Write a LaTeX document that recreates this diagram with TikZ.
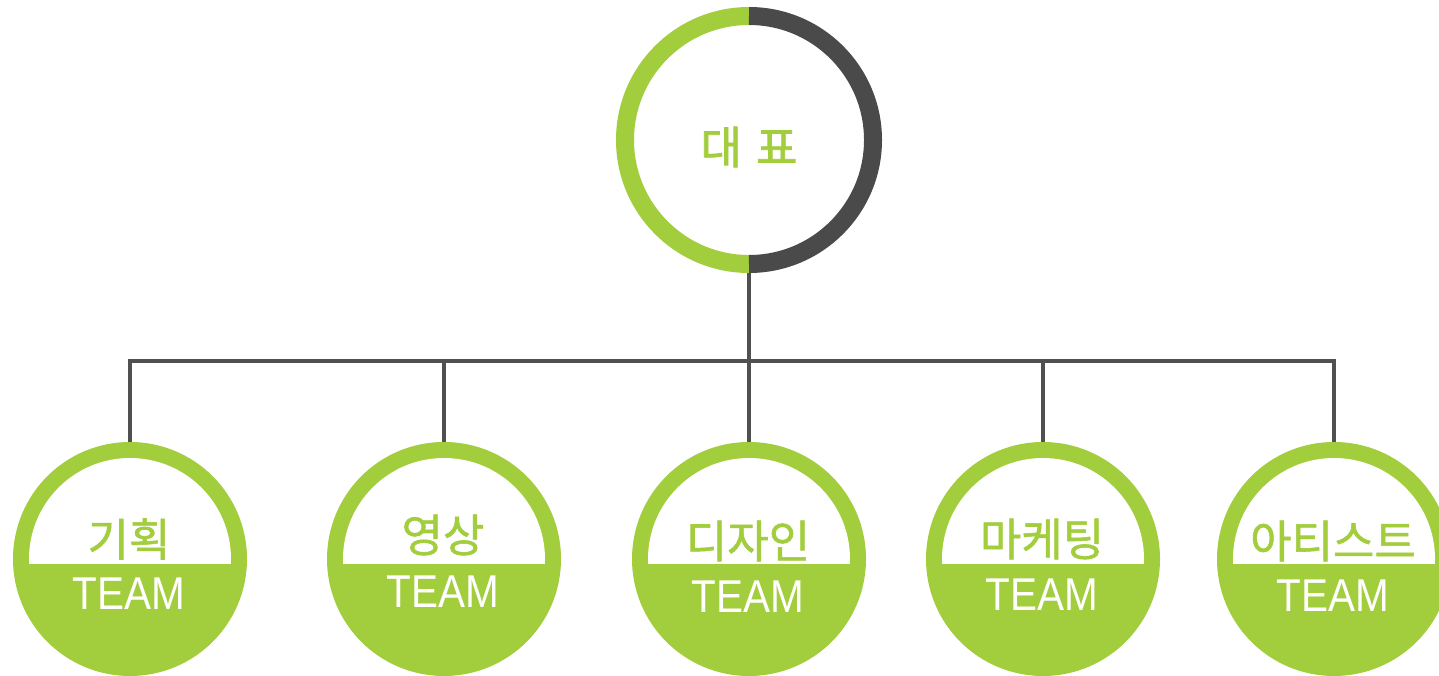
\documentclass[tikz,border=0pt]{standalone}
\usepackage{fontspec}
\newfontfamily\korfont[FakeBold=1.2]{Noto Sans CJK KR}
\newfontfamily\korbold[FakeBold=1.6]{Noto Sans CJK KR}
\newfontfamily\teamfont[FakeStretch=0.88]{Liberation Sans}
\definecolor{leaf}{HTML}{A2CD3C}
\definecolor{ink}{HTML}{4A4A4A}
\definecolor{wire}{HTML}{505050}
\tikzset{
  team/.style={circle, fill=leaf, minimum size=234pt, inner sep=0pt, outer sep=0pt},
  boss/.style={circle, minimum size=266pt, inner sep=0pt, outer sep=0pt},
  kor/.style={text=leaf, font=\korfont\fontsize{45}{45}\selectfont, inner sep=0pt},
  eng/.style={text=white, font=\teamfont\fontsize{46}{46}\selectfont, inner sep=0pt},
  link/.style={draw=wire, line width=3.5pt}
}
\begin{document}
\begin{tikzpicture}[x=1pt,y=-1pt]
\useasboundingbox (0,0) rectangle (1439,676);
\clip (0,0) rectangle (1439,676);
\fill[white] (0,0) rectangle (1439,676);
% top circle
\node[boss] (top) at (749,140) {};
\draw[leaf, line width=18pt] (749,16) arc[start angle=-90, end angle=-270, radius=124];
\draw[ink, line width=18pt] (749,16) arc[start angle=-90, end angle=90, radius=124];
\node[text=leaf, font=\korbold\fontsize{45}{45}\selectfont, inner sep=0pt] (toplabel) at (749,147) {대\hspace{14pt}표};
% team circles
\foreach \n/\x/\k/\ky/\ty in {c1/130/기획/539/594, c2/444/영상/535/592, c3/749/디자인/541/597, c4/1043/마케팅/539/595, c5/1334/아티스트/541/596}{
  \node[team] (\n) at (\x,559) {};
  \begin{scope}
    \clip (\x-110,440) rectangle (\x+110,563);
    \fill[white] (\x,559) circle[radius=101];
  \end{scope}
  \node[kor] (\n k) at (\x-1,\ky) {\k};
  \node[eng] (\n t) at (\x-1.5,\ty) {TEAM};
}
% connectors
\coordinate (bar) at (749,361);
\draw[link] (top.south) -- (c3.north);
\draw[link] (c1.north) |- (c5.north |- bar) -- (c5.north);
\draw[link] (c2.north) -- (c2.north |- bar);
\draw[link] (c4.north) -- (c4.north |- bar);
\end{tikzpicture}
\end{document}
